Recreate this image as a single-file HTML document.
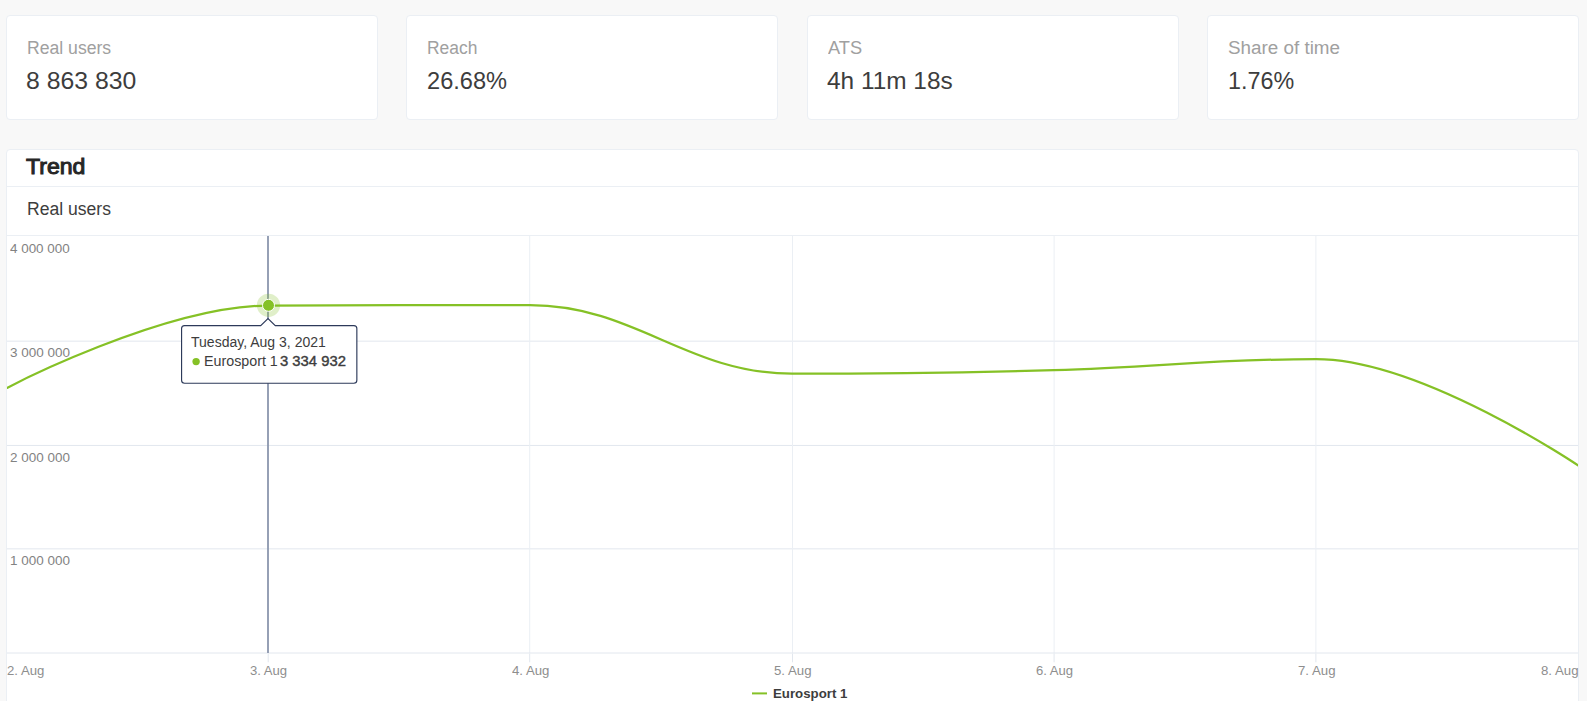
<!DOCTYPE html>
<html lang="en">
<head>
<meta charset="utf-8">
<title>Trend</title>
<style>
html,body{margin:0;padding:0}
body{width:1593px;height:701px;overflow:hidden;background:#fff;position:relative;font-family:"Liberation Sans",Arial,sans-serif;}
#bg{position:absolute;left:0;top:0;width:1587px;height:701px;background:#f8f8f8}
.card{position:absolute;top:15px;height:103px;width:370px;background:#fff;border:1px solid #ebeff4;border-radius:4px}
#panel{position:absolute;left:6px;top:149px;width:1571px;height:600px;background:#fff;border:1px solid #ebeff4;border-radius:4px}
.hl{position:absolute;left:7px;width:1571px;height:1px;background:#ebeff4}
#panel .hl{left:0}
.t{position:absolute;margin:0;white-space:nowrap;line-height:1;transform-origin:0 0;font-weight:400}
#chart{position:absolute;left:0;top:0}
</style>
</head>
<body>
<main id="bg">
<section class="cards">
<div class="card" style="left:6px">
  <div class="t label" id="c1l" style="left:19.82px;top:23.30px;font-size:18px;font-weight:400;color:#a0a0a0;transform:scaleX(0.9783)">Real users</div>
  <div class="t value" id="c1v" style="left:19.31px;top:53.00px;font-size:24px;font-weight:400;color:#3d3d3d;transform:scaleX(1.0327)">8 863 830</div>
</div>
<div class="card" style="left:406px">
  <div class="t label" id="c2l" style="left:19.91px;top:23.30px;font-size:18px;font-weight:400;color:#a0a0a0;transform:scaleX(0.9680)">Reach</div>
  <div class="t value" id="c2v" style="left:19.87px;top:53.00px;font-size:24px;font-weight:400;color:#3d3d3d;transform:scaleX(0.9835)">26.68%</div>
</div>
<div class="card" style="left:807px">
  <div class="t label" id="c3l" style="left:19.59px;top:23.30px;font-size:18px;font-weight:400;color:#a0a0a0;transform:scaleX(1.0138)">ATS</div>
  <div class="t value" id="c3v" style="left:19.11px;top:53.00px;font-size:24px;font-weight:400;color:#3d3d3d;transform:scaleX(1.0168)">4h 11m 18s</div>
</div>
<div class="card" style="left:1207px">
  <div class="t label" id="c4l" style="left:19.67px;top:23.30px;font-size:18px;font-weight:400;color:#a0a0a0;transform:scaleX(1.0460)">Share of time</div>
  <div class="t value" id="c4v" style="left:20.03px;top:53.00px;font-size:24px;font-weight:400;color:#3d3d3d;transform:scaleX(0.9718)">1.76%</div>
</div>
</section>
<section id="panel">
  <h2 class="t" id="trend" style="left:19.19px;top:6.05px;font-size:22px;font-weight:700;color:#262626;font-weight:400;-webkit-text-stroke:1px #262626;transform:scaleX(1.0492)">Trend</h2>
  <div class="hl" style="top:36px"></div>
  <h3 class="t" id="sub" style="left:19.69px;top:50.30px;font-size:18px;font-weight:400;color:#3d3d3d;transform:scaleX(0.9756)">Real users</h3>
  <div class="hl" style="top:85px"></div>
  <div class="chart">
  <svg id="chart" width="1593" height="701" viewBox="0 0 1593 701" style="left:-7px;top:-150px"><g class="grid"><path d="M7 341.15H1578" stroke="#e2e7ee" stroke-width="1" fill="none"/><path d="M7 445.45H1578" stroke="#e2e7ee" stroke-width="1" fill="none"/><path d="M7 548.85H1578" stroke="#e2e7ee" stroke-width="1" fill="none"/><path d="M529.7 236V653" stroke="#ebeff4" stroke-width="1" fill="none"/><path d="M792.5 236V653" stroke="#ebeff4" stroke-width="1" fill="none"/><path d="M1054.1 236V653" stroke="#ebeff4" stroke-width="1" fill="none"/><path d="M1315.9 236V653" stroke="#ebeff4" stroke-width="1" fill="none"/></g><g class="axis"><path d="M7 653.0H1578" stroke="#e2e7ee" stroke-width="1" fill="none"/><path d="M268.2 653.5V662.3" stroke="#e2e7ee" stroke-width="1" fill="none"/><path d="M529.7 653.5V662.3" stroke="#e2e7ee" stroke-width="1" fill="none"/><path d="M792.5 653.5V662.3" stroke="#e2e7ee" stroke-width="1" fill="none"/><path d="M1054.1 653.5V662.3" stroke="#e2e7ee" stroke-width="1" fill="none"/><path d="M1315.9 653.5V662.3" stroke="#e2e7ee" stroke-width="1" fill="none"/></g><path class="crosshair" d="M268 236V653" stroke="#8b96ad" stroke-width="1.8" fill="none"/><clipPath id="cp"><rect x="7" y="236" width="1571" height="418"/></clipPath><path class="series" clip-path="url(#cp)" d="M 7.00 387.90 C 7.00 387.90 163.90 305.80 268.50 305.50 C 373.10 305.20 425.40 305.20 530.00 305.20 C 634.80 305.20 687.20 373.70 792.00 373.70 C 896.80 373.70 949.20 373.02 1054.00 370.10 C 1158.80 367.18 1211.20 359.10 1316.00 359.10 C 1420.80 359.10 1578.00 465.40 1578.00 465.40" stroke="#85c126" stroke-width="2.25" fill="none" stroke-linejoin="round" stroke-linecap="round"/><circle class="halo" cx="268.5" cy="305.3" r="11.6" fill="#85c126" fill-opacity="0.25"/><circle class="marker" cx="268.5" cy="305.3" r="6" fill="#85c126" stroke="#fff" stroke-width="1"/><path class="legend-symbol" d="M752 693.4H767" stroke="#85c126" stroke-width="2" fill="none"/><path class="tooltip-box" d="M184.58 325.55H260.7L268 318.6L275.3 325.55H353.85a3 3 0 0 1 3 3V380.2a3 3 0 0 1-3 3H184.58a3 3 0 0 1-3-3V328.55a3 3 0 0 1 3-3Z" fill="#fff" stroke="#2d3a5a" stroke-width="1.15" stroke-linejoin="miter"/><circle class="tooltip-dot" cx="196.1" cy="361.6" r="3.7" fill="#85c126"/></svg>
  <div class="y-axis">
    <div class="t" id="y4" style="left:2.50px;top:91.70px;font-size:13px;font-weight:400;color:#828282;transform:scaleX(1.0318)">4 000 000</div>
    <div class="t" id="y3" style="left:2.50px;top:195.61px;font-size:13px;font-weight:400;color:#828282;transform:scaleX(1.0375)">3 000 000</div>
    <div class="t" id="y2" style="left:2.50px;top:301.02px;font-size:13px;font-weight:400;color:#828282;transform:scaleX(1.0352)">2 000 000</div>
    <div class="t" id="y1" style="left:3.00px;top:403.92px;font-size:13px;font-weight:400;color:#828282;transform:scaleX(1.0354)">1 000 000</div>
  </div>
  <div class="x-axis">
    <div class="t" id="x2" style="left:0.42px;top:514.00px;font-size:13px;font-weight:400;color:#8e8e8e;transform:scaleX(1.0123)">2. Aug</div>
    <div class="t" id="x3" style="left:243.19px;top:514.00px;font-size:13px;font-weight:400;color:#8e8e8e;transform:scaleX(1.0070)">3. Aug</div>
    <div class="t" id="x4" style="left:504.62px;top:514.00px;font-size:13px;font-weight:400;color:#8e8e8e;transform:scaleX(1.0134)">4. Aug</div>
    <div class="t" id="x5" style="left:767.14px;top:514.00px;font-size:13px;font-weight:400;color:#8e8e8e;transform:scaleX(1.0170)">5. Aug</div>
    <div class="t" id="x6" style="left:1029.14px;top:514.00px;font-size:13px;font-weight:400;color:#8e8e8e;transform:scaleX(1.0063)">6. Aug</div>
    <div class="t" id="x7" style="left:1291.41px;top:514.00px;font-size:13px;font-weight:400;color:#8e8e8e;transform:scaleX(1.0167)">7. Aug</div>
    <div class="t" id="x8" style="left:1534.39px;top:514.00px;font-size:13px;font-weight:400;color:#8e8e8e;transform:scaleX(1.0189)">8. Aug</div>
  </div>
  <div class="tooltip">
    <span class="t" id="t1" style="left:183.84px;top:184.89px;font-size:14px;font-weight:400;color:#3d3d3d;transform:scaleX(1.0013)">Tuesday, Aug 3, 2021</span>
    <span class="t" id="t2" style="left:196.64px;top:204.00px;font-size:14px;font-weight:400;color:#3d3d3d;transform:scaleX(1.0197)">Eurosport 1</span>
    <b class="t" id="t3" style="left:273.23px;top:204.00px;font-size:14px;font-weight:700;color:#3d3d3d;font-weight:400;-webkit-text-stroke:0.4px #3d3d3d;transform:scaleX(1.0575)">3 334 932</b>
  </div>
  <div class="legend">
    <span class="t" id="leg" style="left:765.91px;top:536.74px;font-size:13.5px;font-weight:700;color:#3d3d3d;transform:scaleX(0.9828)">Eurosport 1</span>
  </div>
  </div>
</section>
</main>
</body>
</html>
